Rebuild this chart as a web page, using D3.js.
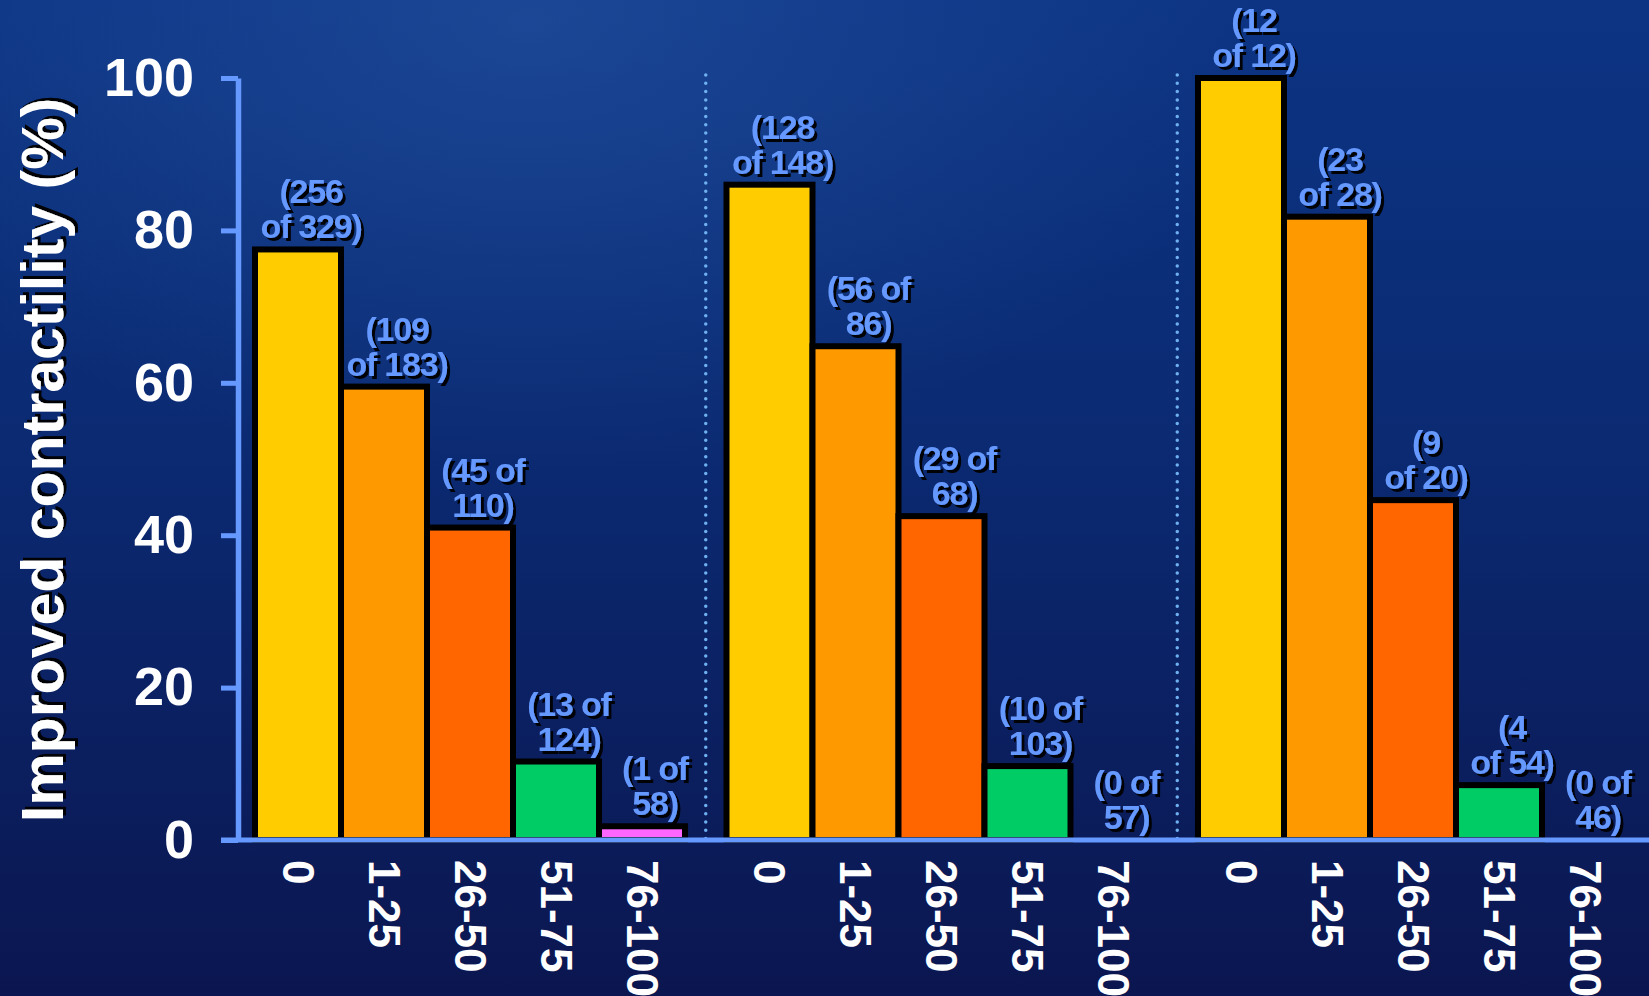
<!DOCTYPE html>
<html>
<head>
<meta charset="utf-8">
<script src="https://cdn.jsdelivr.net/npm/d3@7"></script>
<style>
html, body { margin: 0; padding: 0; background: #0b1f66; overflow: hidden; }
svg { display: block; }
text { font-family: "Liberation Sans", Arial, sans-serif; font-weight: bold; }
</style>
</head>
<body>
<svg></svg>
<script>
// data
const groupNames = ["g1", "g2", "g3"];
const categories = ["0", "1-25", "26-50", "51-75", "76-100"];
const group1Values = [77.5, 59.5, 41, 10.3, 1.8];
const group2Values = [86, 64.8, 42.5, 9.7, 0];
const group3Values = [100, 81.8, 44.6, 7.2, 0];
const group1Labels = [["(256", "of 329)"], ["(109", "of 183)"], ["(45 of", "110)"], ["(13 of", "124)"], ["(1 of", "58)"]];
const group2Labels = [["(128", "of 148)"], ["(56 of", "86)"], ["(29 of", "68)"], ["(10 of", "103)"], ["(0 of", "57)"]];
const group3Labels = [["(12", "of 12)"], ["(23", "of 28)"], ["(9", "of 20)"], ["(4", "of 54)"], ["(0 of", "46)"]];
const yTicks = [0, 20, 40, 60, 80, 100];
const barColors = ["#ffcc00", "#ff9900", "#ff6600", "#00cc66", "#ff66ff"];
const yTitle = "Improved contractility (%)";

const width = 1649;
const height = 996;
const axisColor = "#6699ff";

let svg = d3.select("svg")
    .attr("width", width)
    .attr("height", height);

// background
let defs = svg.append("defs");
let bg = defs.append("linearGradient")
    .attr("id", "bg")
    .attr("x1", 0).attr("y1", 0).attr("x2", 0).attr("y2", 1);
bg.append("stop").attr("offset", "0%").attr("stop-color", "#0c3483");
bg.append("stop").attr("offset", "45%").attr("stop-color", "#0b2a72");
bg.append("stop").attr("offset", "100%").attr("stop-color", "#0b1650");

let glow = defs.append("radialGradient")
    .attr("id", "glow")
    .attr("cx", 0.32).attr("cy", 0.02).attr("r", 0.45);
glow.append("stop").attr("offset", "0%").attr("stop-color", "#2a5aa8").attr("stop-opacity", 0.5);
glow.append("stop").attr("offset", "100%").attr("stop-color", "#2a5aa8").attr("stop-opacity", 0);

// hard black drop shadow for texts
defs.append("filter")
    .attr("id", "shadow")
    .attr("x", "-10%").attr("y", "-10%").attr("width", "130%").attr("height", "130%")
    .append("feDropShadow")
    .attr("dx", 3).attr("dy", 3)
    .attr("stdDeviation", 0.6)
    .attr("flood-color", "#000")
    .attr("flood-opacity", 0.95);

svg.append("rect").attr("width", width).attr("height", height).attr("fill", "url(#bg)");
svg.append("rect").attr("width", width).attr("height", height).attr("fill", "url(#glow)");

// scales
const scaleY = d3.scaleLinear()
    .domain([0, 100])
    .range([840, 78]);

const scaleGroup = d3.scaleBand()
    .domain(groupNames)
    .range([255, 1628])
    .paddingInner(0.088);

const scaleCat = d3.scaleBand()
    .domain(categories)
    .range([0, scaleGroup.bandwidth()]);

const groups = [
    { name: groupNames[0], values: group1Values, labels: group1Labels },
    { name: groupNames[1], values: group2Values, labels: group2Labels },
    { name: groupNames[2], values: group3Values, labels: group3Labels }
];

// dotted separators between groups
const step = scaleGroup.step();
const sepX = groupNames.slice(1).map(g => scaleGroup(g) - (step - scaleGroup.bandwidth()) / 2);
svg.selectAll(".sep")
    .data(sepX)
    .enter()
    .append("line")
    .attr("x1", d => d).attr("x2", d => d)
    .attr("y1", scaleY(100) - 3)
    .attr("y2", scaleY(0))
    .attr("stroke", "#6fb0f0")
    .attr("stroke-width", 3.5)
    .attr("stroke-linecap", "round")
    .attr("stroke-dasharray", "0,8.3");

// bars and labels
groups.forEach(grp => {
    const gx = scaleGroup(grp.name);
    const rows = categories.map((c, i) => ({ cat: c, value: grp.values[i], label: grp.labels[i], color: barColors[i] }));
    let g = svg.append("g").attr("transform", `translate(${gx}, 0)`);

    g.selectAll(".bar")
        .data(rows.filter(d => d.value > 0))
        .enter()
        .append("rect")
        .attr("x", d => scaleCat(d.cat))
        .attr("y", d => scaleY(d.value))
        .attr("width", scaleCat.bandwidth())
        .attr("height", d => scaleY(0) - scaleY(d.value))
        .attr("fill", d => d.color)
        .attr("stroke", "#000")
        .attr("stroke-width", 6);

    // two-line count labels above the bars
    let t = g.selectAll(".lab")
        .data(rows)
        .enter()
        .append("text")
        .attr("font-size", 34)
        .attr("letter-spacing", -1.2)
        .attr("text-anchor", "middle")
        .attr("fill", "#6699ff")
        .attr("filter", "url(#shadow)");
    t.append("tspan")
        .attr("x", d => scaleCat(d.cat) + scaleCat.bandwidth() / 2 + 13)
        .attr("y", d => scaleY(d.value) - 46)
        .text(d => d.label[0]);
    t.append("tspan")
        .attr("x", d => scaleCat(d.cat) + scaleCat.bandwidth() / 2 + 13)
        .attr("y", d => scaleY(d.value) - 11)
        .text(d => d.label[1]);

    // category labels under the group
    let axisX = d3.axisBottom(scaleCat).tickSize(0);
    let ax = svg.append("g")
        .attr("transform", `translate(${gx}, ${scaleY(0)})`)
        .call(axisX);
    ax.select(".domain").remove();
    ax.selectAll("text")
        .attr("font-family", null)
        .attr("font-size", 44)
        .attr("fill", "#fff")
        .attr("transform", "rotate(90)")
        .attr("x", 20)
        .attr("y", 0)
        .attr("dy", "0.35em")
        .style("text-anchor", "start");
});

// x axis line
svg.append("line")
    .attr("x1", 221).attr("x2", width)
    .attr("y1", scaleY(0)).attr("y2", scaleY(0))
    .attr("stroke", axisColor)
    .attr("stroke-width", 5);

// y axis
let axisY = d3.axisLeft(scaleY)
    .tickValues(yTicks)
    .tickSize(17)
    .tickSizeOuter(0)
    .tickPadding(27);
let ay = svg.append("g")
    .attr("transform", "translate(238, 0)")
    .call(axisY);
ay.select(".domain")
    .attr("stroke", axisColor)
    .attr("stroke-width", 5.5);
ay.selectAll(".tick line")
    .attr("stroke", axisColor)
    .attr("stroke-width", 5);
ay.selectAll(".tick text")
    .attr("font-family", null)
    .attr("font-size", 54)
    .attr("fill", "#fff");

// y title
svg.append("text")
    .attr("transform", "translate(63, 460) rotate(-90)")
    .attr("text-anchor", "middle")
    .attr("font-size", 59)
    .attr("fill", "#fff")
    .attr("filter", "url(#shadow)")
    .text(yTitle);
</script>
</body>
</html>
